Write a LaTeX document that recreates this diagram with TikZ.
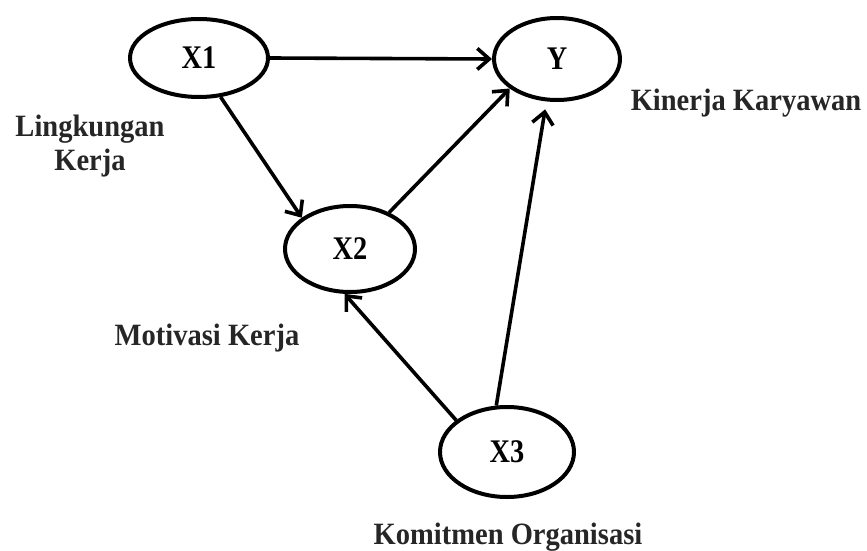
\documentclass[tikz,border=0pt]{standalone}
\usepackage{fontspec}
\setmainfont{Liberation Serif}
\newfontfamily\condfont[FakeStretch=0.92]{Liberation Serif}
\newfontfamily\varfont[FakeStretch=0.86]{Liberation Serif}
\usetikzlibrary{shapes.geometric,arrows.meta}
\begin{document}
\begin{tikzpicture}[x=1pt,y=-1pt,
  var/.style={ellipse,draw=black,line width=4pt,inner sep=0pt,font=\varfont\fontsize{33}{36}\selectfont\bfseries},
  lab/.style={font=\condfont\fontsize{31}{34}\selectfont\bfseries,align=center,text=black!85},
  link/.style={line width=3.6pt,-{Straight Barb[length=12pt,width=21pt,line width=3.6pt]}}]
\useasboundingbox (0,0) rectangle (867,551);
\node[var,minimum width=138pt,minimum height=78pt] (X1) at (199,58) {X1};
\node[var,minimum width=126pt,minimum height=82pt] (Y) at (557,59) {Y};
\node[var,minimum width=130pt,minimum height=86pt] (X2) at (350,249) {X2};
\node[var,minimum width=134pt,minimum height=90pt] (X3) at (507,452) {X3};
\node[lab] (l1) at (90,146) {Lingkungan\\Kerja};
\node[lab] (ly) at (746,103) {Kinerja Karyawan};
\node[lab] (l2) at (207,338) {Motivasi Kerja};
\node[lab] (l3) at (508,537) {Komitmen Organisasi};
\draw[link] (X1.east) -- (Y.west);
\draw[link] (X1.-61) -- (X2.147);
\draw[link] (X2.43) -- (Y.212);
\draw[link] (X3.148) -- (X2.263);
\draw[link,shorten >=8pt] (X3.103) -- (Y.256);
\end{tikzpicture}
\end{document}
